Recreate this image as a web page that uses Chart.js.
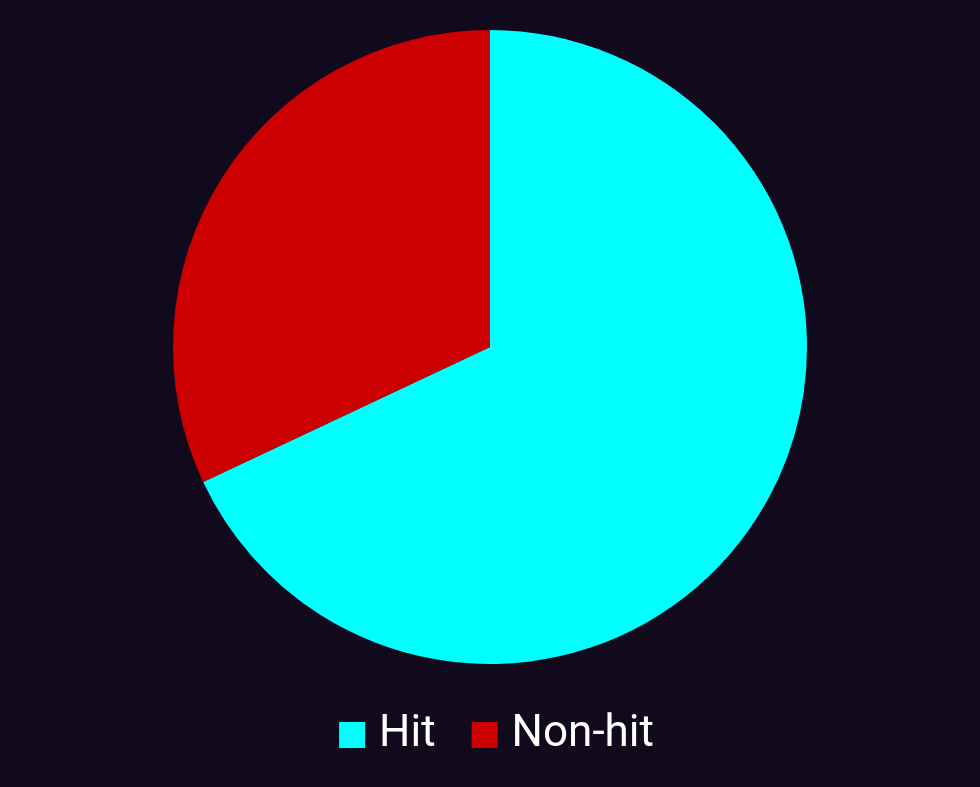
<!DOCTYPE html>
<html><head><meta charset="utf-8">
<script src="https://cdn.jsdelivr.net/npm/chart.js@4"></script>
<style>html,body{margin:0;padding:0;background:#100a1c;}#wrap{width:980px;height:787px;}</style>
</head><body><div id="wrap"><canvas id="c"></canvas></div>
<script>
const categories = ["Hit", "Non-hit"];
const values = [68, 32];
const colors = ["#00ffff", "#cc0000"];
const legendShift = { id: 'legendShift', afterLayout(chart) {
  const lg = chart.legend;
  if (lg) { lg.left += 10.5; lg.right += 10.5; lg.top -= 20; lg.bottom -= 20; }
} };
new Chart(document.getElementById('c'), {
  type: 'pie',
  data: { labels: categories, datasets: [{ data: values, backgroundColor: colors, borderColor: colors, borderWidth: 0 }] },
  plugins: [legendShift],
  options: {
    responsive: true, maintainAspectRatio: false, animation: false,
    layout: { padding: { top: 5, left: 173, right: 173, bottom: 0 } },
    plugins: {
      tooltip: { enabled: false },
      legend: { position: 'bottom', labels: { color: '#ffffff', usePointStyle: true, pointStyle: 'rect', boxWidth: 10, boxHeight: 26, padding: 44, font: { family: 'Roboto', size: 44 } } }
    }
  }
});
</script></body></html>
